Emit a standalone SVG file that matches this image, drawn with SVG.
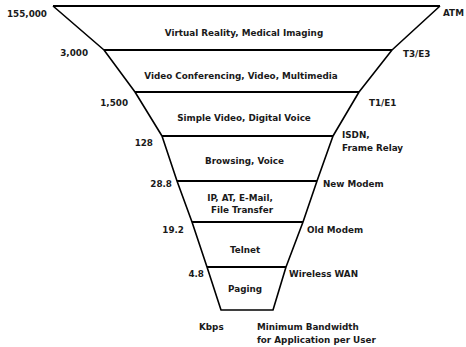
<svg xmlns="http://www.w3.org/2000/svg" width="466" height="347" viewBox="0 0 466 347">
<style>
text{font-family:"DejaVu Sans","Liberation Sans",sans-serif;font-size:8.8px;font-weight:bold;fill:#1a1a1a}
.c{text-anchor:middle}
.r{text-anchor:end}
.h{stroke:#000;stroke-width:2;fill:none}
.s{stroke:#000;stroke-width:1.6;fill:none;stroke-linejoin:round}
</style>
<rect width="466" height="347" fill="#fff"/>
<g id="funnel-sides">
<polyline class="s" points="53,6 104,50 135,92 162,136 177,181 192,222 207,267 221,310 273,310 286,267 303,222 317,181 333,136 359,92 392,50 440,6"/>
</g>
<g id="tier-atm">
<line class="h" x1="53" y1="6" x2="440" y2="6"/>
<text x="47" y="17" class="r">155,000</text>
<text x="443" y="15.5">ATM</text>
<text x="244" y="36" class="c">Virtual Reality, Medical Imaging</text>
</g>
<g id="tier-t3">
<line class="h" x1="104" y1="50" x2="392" y2="50"/>
<text x="88" y="56" class="r">3,000</text>
<text x="403" y="57">T3/E3</text>
<text x="241" y="79" class="c">Video Conferencing, Video, Multimedia</text>
</g>
<g id="tier-t1">
<line class="h" x1="135" y1="92" x2="359" y2="92"/>
<text x="128" y="106" class="r">1,500</text>
<text x="369" y="106">T1/E1</text>
<text x="244" y="121" class="c">Simple Video, Digital Voice</text>
</g>
<g id="tier-isdn">
<line class="h" x1="162" y1="136" x2="333" y2="136"/>
<text x="153" y="146" class="r">128</text>
<text x="342" y="138">ISDN,</text>
<text x="342" y="151">Frame Relay</text>
<text x="244.5" y="164" class="c">Browsing, Voice</text>
</g>
<g id="tier-newmodem">
<line class="h" x1="177" y1="181" x2="317" y2="181"/>
<text x="172" y="187" class="r">28.8</text>
<text x="323" y="187">New Modem</text>
<text x="240" y="201" class="c">IP, AT, E-Mail,</text>
<text x="242" y="213" class="c">File Transfer</text>
</g>
<g id="tier-oldmodem">
<line class="h" x1="192" y1="222" x2="303" y2="222"/>
<text x="184" y="233" class="r">19.2</text>
<text x="307" y="233">Old Modem</text>
<text x="245" y="253" class="c">Telnet</text>
</g>
<g id="tier-wireless">
<line class="h" x1="207" y1="267" x2="286" y2="267"/>
<text x="204" y="277" class="r">4.8</text>
<text x="289" y="277">Wireless  WAN</text>
<text x="245" y="292" class="c">Paging</text>
</g>
<g id="axis-labels">
<text x="199" y="330">Kbps</text>
<text x="257" y="330">Minimum Bandwidth</text>
<text x="257" y="343">for Application per User</text>
</g>
</svg>
